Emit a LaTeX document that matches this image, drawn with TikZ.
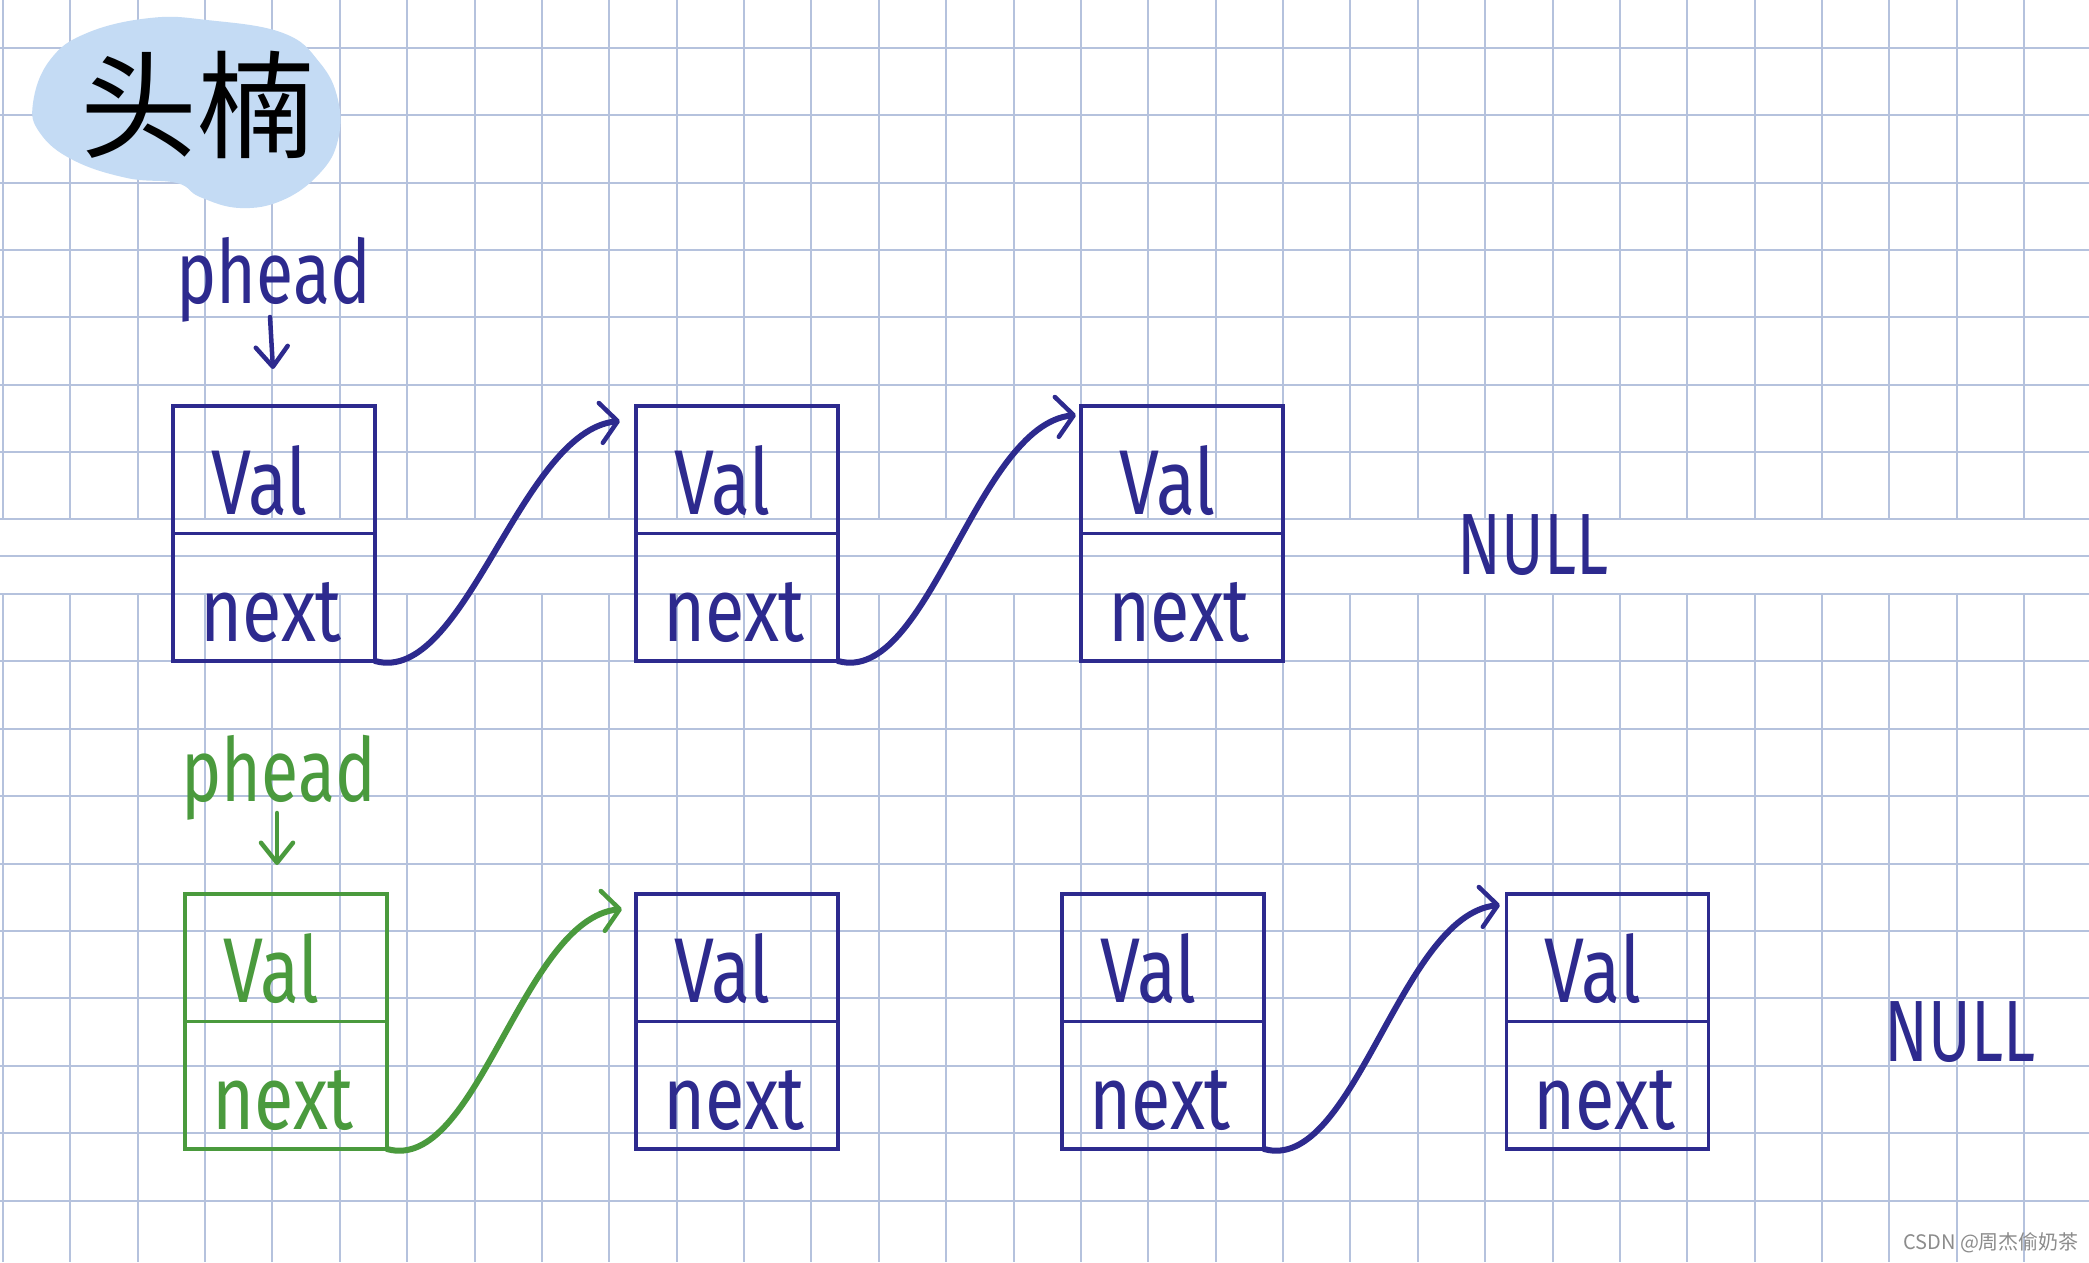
\documentclass[tikz,border=0pt]{standalone}
\usepackage{fontspec}
\usepackage{graphicx}
\usetikzlibrary{arrows.meta,calc}
\newfontfamily\hand{Fira Sans}
\newfontfamily\cjk{Noto Sans CJK SC}
\definecolor{ink}{HTML}{2D2A8E}
\definecolor{inkgreen}{HTML}{4A9A3D}
\definecolor{gridc}{HTML}{B5C2DD}
\definecolor{blobc}{HTML}{C4DBF4}
\definecolor{wmc}{HTML}{8C8C8C}
\tikzset{
  cellbox/.style={draw, line width=3.5pt, minimum width=202pt, minimum height=127.5pt, inner sep=0pt, outer sep=0pt, anchor=north},
  valtext/.style={font=\hand\fontsize{92}{92}\selectfont, inner sep=0pt},
  nexttext/.style={font=\hand\fontsize{90}{90}\selectfont, inner sep=0pt},
  headtext/.style={font=\hand\fontsize{68}{68}\selectfont, inner sep=0pt},
  nulltext/.style={font=\hand\fontsize{87}{87}\selectfont, inner sep=0pt},
  link/.style={line width=6pt, line cap=round, -{Straight Barb[length=17pt,width=40pt,line width=4.5pt,round]}},
  headarrow/.style={line width=4.5pt, line cap=round, -{Straight Barb[length=20pt,width=32pt,line width=4.5pt,round]}},
  gridline/.style={gridc, line width=2pt},
}
\newcommand\listnode[4]{%
  \node[cellbox, draw=#4] (#1v) at (#2,#3) {};
  \node[cellbox, draw=#4] (#1n) at (#1v.south) {};
  \node[valtext, text=#4] (#1vt) at ($(#1v.center)+(-14.5,10.5)$) {\scalebox{0.78}[1]{Val}};
  \node[nexttext, text=#4] (#1nt) at ($(#1n.center)+(-3,15.5)$) {\scalebox{0.8}[1]{next}};
}
\begin{document}
\begin{tikzpicture}[x=1pt,y=-1pt]
\useasboundingbox (0,0) rectangle (2089,1262);
\fill[white] (0,0) rectangle (2089,1262);
% grid
\foreach \i in {0,...,30} {
  \draw[gridline] ({3+67.37*\i},0) -- ({3+67.37*\i},519.5);
  \draw[gridline] ({3+67.37*\i},594) -- ({3+67.37*\i},1262);
}
\foreach \j in {0,...,7} \draw[gridline] (0,{48+67.35*\j}) -- (2089,{48+67.35*\j});
\draw[gridline] (0,556) -- (2089,556);
\foreach \j in {0,...,9} \draw[gridline] (0,{594+67.4*\j}) -- (2089,{594+67.4*\j});
% title blob
\fill[blobc] plot[smooth cycle, tension=0.7] coordinates {(33,103) (50,60) (87,33) (150,18) (207,20) (283,33) (320,63) (338,100) (338,140) (320,173) (283,200) (240,208) (200,197) (177,183) (127,178) (73,160) (40,133)};
\node[font=\cjk\fontsize{117}{117}\selectfont, inner sep=0pt] (title) at (197,105) {头楠};
% top row
\node[headtext, text=ink] (ph1) at (273.5,280) {\scalebox{1}[1.3]{phead}};
\coordinate (ph1a) at (270,317);
\coordinate (ph1b) at (273,369);
\draw[headarrow, ink] (ph1a) -- (ph1b);
\listnode{b1}{274}{406}{ink}
\listnode{b2}{737}{406}{ink}
\listnode{b3}{1182}{406}{ink}
\node[nulltext, text=ink] (null1) at (1533,545) {\scalebox{0.74}[1]{NULL}};
\coordinate (t1) at (620,421);
\coordinate (t2) at (1076,415);
\draw[link, ink] (b1n.south east) .. controls +(90,25) and +(-100,10) .. (t1);
\draw[link, ink] (b2n.south east) .. controls +(90,25) and +(-100,10) .. (t2);
% bottom row
\node[headtext, text=inkgreen] (ph2) at (278.5,778) {\scalebox{1}[1.3]{phead}};
\coordinate (ph2a) at (277,813);
\coordinate (ph2b) at (277,865);
\draw[headarrow, inkgreen] (ph2a) -- (ph2b);
\listnode{b4}{286}{894}{inkgreen}
\listnode{b5}{737}{894}{ink}
\listnode{b6}{1163}{894}{ink}
\listnode{b7}{1607.5}{894}{ink}
\node[nulltext, text=ink] (null2) at (1960,1032) {\scalebox{0.74}[1]{NULL}};
\coordinate (t3) at (622,909);
\coordinate (t4) at (1500,905);
\draw[link, inkgreen] (b4n.south east) .. controls +(90,25) and +(-100,10) .. (t3);
\draw[link, ink] (b6n.south east) .. controls +(90,25) and +(-100,10) .. (t4);
% watermark
\node[font=\cjk\fontsize{20}{20}\selectfont, text=wmc, anchor=west, inner sep=0pt] (wmk) at (1903,1243) {CSDN @周杰偷奶茶};
\end{tikzpicture}
\end{document}
